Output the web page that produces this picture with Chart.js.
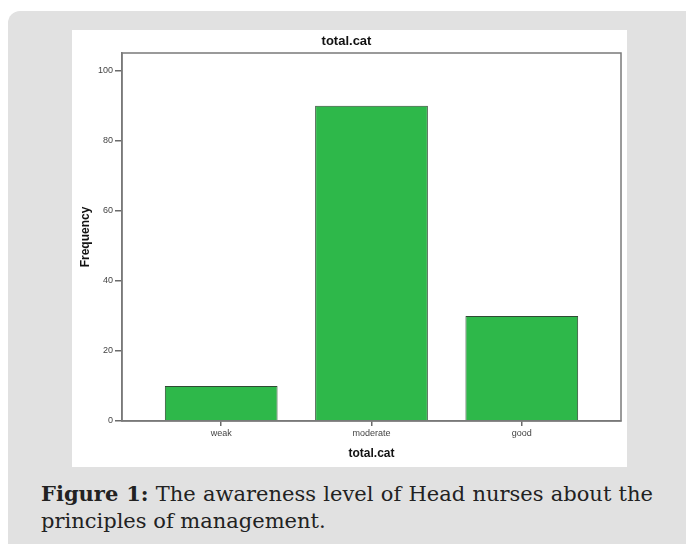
<!DOCTYPE html>
<html>
<head>
<meta charset="utf-8">
<script src="https://cdn.jsdelivr.net/npm/chart.js@4"></script>
<style>
    body { margin: 0; background: #fff; width: 686px; height: 544px; overflow: hidden; position: relative; }
    .panel { position: absolute; left: 8px; top: 11px; width: 690px; height: 560px; background: #e1e1e1; border-radius: 12px; }
    .plot-box { position: absolute; left: 72px; top: 30px; width: 555px; height: 437px; background: #fff; }
    .caption { position: absolute; left: 41px; top: 480px; width: 612px; font-family: "DejaVu Serif", serif; font-size: 21px; line-height: 27px; color: #222; text-align: justify; text-align-last: left; }
</style>
</head>
<body>
<div class="panel"></div>
<div class="plot-box"><canvas id="freqChart" width="555" height="437"></canvas></div>
<div class="caption"><b>Figure 1:</b> The awareness level of Head nurses about the principles of management.</div>
<script>
const categories = ['weak', 'moderate', 'good'];
const frequencies = [10, 90, 30];
const yTicks = [0, 20, 40, 60, 80, 100];

// plot frame drawn around the chart area (SPSS style)
const framePlugin = {
    id: 'frame',
    afterDraw(chart) {
        const { ctx, chartArea } = chart;
        ctx.save();
        ctx.strokeStyle = '#7a7a7a';
        ctx.lineWidth = 1.5;
        ctx.strokeRect(chartArea.left, chartArea.top, chartArea.right - chartArea.left, chartArea.bottom - chartArea.top);
        ctx.restore();
    }
};

new Chart(document.getElementById('freqChart'), {
    type: 'bar',
    data: {
        datasets: [{
            label: 'Frequency',
            data: categories.map((c, i) => ({ x: i, y: frequencies[i] })),
            backgroundColor: '#2eb84a',
            borderColor: '#2f4a33',
            borderWidth: 1,
            barPercentage: 0.75,
            categoryPercentage: 1
        }]
    },
    options: {
        responsive: false,
        animation: false,
        layout: { padding: { left: 0, right: 6, top: 0, bottom: 0 } },
        plugins: {
            legend: { display: false },
            tooltip: { enabled: false },
            title: {
                display: true,
                text: 'total.cat',
                color: '#111',
                font: { family: 'Liberation Sans, Arial', size: 13, weight: 'bold' },
                padding: { top: 4, bottom: 3.4 }
            }
        },
        scales: {
            x: {
                type: 'linear',
                offset: false,
                min: -0.66,
                max: 2.66,
                afterBuildTicks: (axis) => { axis.ticks = categories.map((c, i) => ({ value: i })); },
                afterFit: (axis) => { axis.height = 46; },
                grid: { offset: false, drawOnChartArea: false, tickLength: 5, color: '#6a6a6a', lineWidth: 1.5 },
                border: { color: '#7a7a7a', width: 1.5 },
                ticks: {
                    color: '#444',
                    padding: 2,
                    font: { family: 'Liberation Sans, Arial', size: 9 },
                    callback: (v) => categories[v]
                },
                title: {
                    display: true,
                    text: 'total.cat',
                    color: '#111',
                    font: { family: 'Liberation Sans, Arial', size: 12, weight: 'bold' },
                    padding: { top: 0, bottom: 6 }
                }
            },
            y: {
                min: 0,
                max: 105.1,
                afterBuildTicks: (axis) => { axis.ticks = yTicks.map(v => ({ value: v })); },
                afterFit: (axis) => { axis.width = 50; },
                grid: { drawOnChartArea: false, tickLength: 7, color: '#6a6a6a', lineWidth: 1.5 },
                border: { color: '#7a7a7a', width: 1.5 },
                ticks: {
                    color: '#444',
                    padding: 2,
                    font: { family: 'Liberation Sans, Arial', size: 9 }
                },
                title: {
                    display: true,
                    text: 'Frequency',
                    color: '#111',
                    font: { family: 'Liberation Sans, Arial', size: 12, weight: 'bold' },
                    padding: { top: 6, bottom: 0 }
                }
            }
        }
    },
    plugins: [framePlugin]
});
</script>
</body>
</html>
